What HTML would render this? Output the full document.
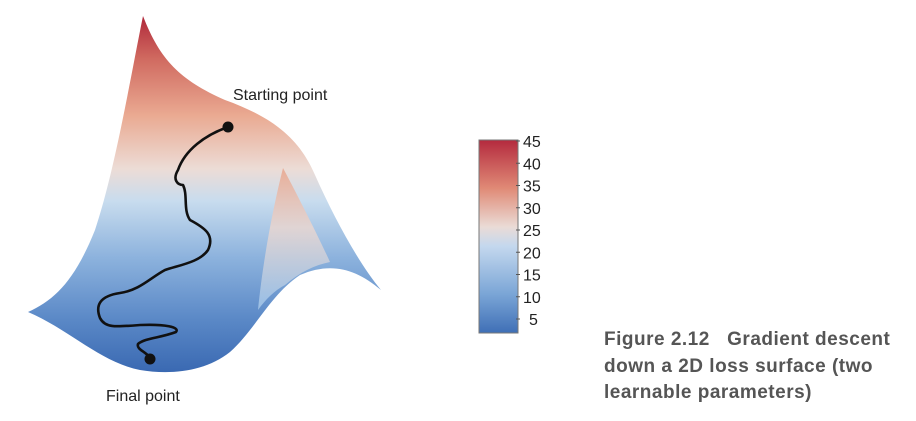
<!DOCTYPE html>
<html><head><meta charset="utf-8">
<style>
html,body{margin:0;padding:0;background:#fff;}
body{width:916px;height:421px;overflow:hidden;position:relative;font-family:"Liberation Sans",sans-serif;}
.cap{position:absolute;left:604px;top:327px;font-weight:bold;font-size:19px;line-height:26.5px;color:#555;letter-spacing:0.5px;white-space:nowrap;}
</style></head><body>
<svg width="916" height="421" style="position:absolute;left:0;top:0">
<defs>
<linearGradient id="surf" x1="0" y1="16" x2="0" y2="372" gradientUnits="userSpaceOnUse">
<stop offset="0" stop-color="#b0283a"/>
<stop offset="0.12" stop-color="#d06a60"/>
<stop offset="0.28" stop-color="#eaaa92"/>
<stop offset="0.43" stop-color="#ecdcd6"/>
<stop offset="0.52" stop-color="#c8dcee"/>
<stop offset="0.68" stop-color="#8cb2dd"/>
<stop offset="0.85" stop-color="#5b89c7"/>
<stop offset="1" stop-color="#3a69b2"/>
</linearGradient>
<linearGradient id="fin" x1="0" y1="168" x2="0" y2="300" gradientUnits="userSpaceOnUse">
<stop offset="0" stop-color="#e8a58c"/>
<stop offset="0.45" stop-color="#e9d6d0"/>
<stop offset="1" stop-color="#a8c8e8"/>
</linearGradient>
<linearGradient id="cb" x1="0" y1="140" x2="0" y2="333" gradientUnits="userSpaceOnUse">
<stop offset="0" stop-color="#b42a3e"/>
<stop offset="0.25" stop-color="#e08a76"/>
<stop offset="0.45" stop-color="#eadbd6"/>
<stop offset="0.55" stop-color="#c4d8ee"/>
<stop offset="0.8" stop-color="#7aa5d6"/>
<stop offset="1" stop-color="#3f6fb6"/>
</linearGradient>
</defs>
<path fill="url(#surf)" d="M143,16 C160,60 180,80 225,100 C275,118 300,140 315,175 C335,220 360,265 381,290 C355,268 330,262 300,275 C270,295 255,330 230,352 C205,372 170,375 140,370 C100,362 70,330 28,312 C55,300 75,280 95,230 C115,170 130,80 143,16 Z"/>
<path fill="url(#fin)" opacity="0.85" d="M283,168 C300,200 320,240 330,262 C315,265 300,272 285,285 C275,290 265,300 258,310 C262,270 270,220 283,168 Z"/>
<path fill="none" stroke="#111" stroke-width="2.6" stroke-linecap="round" stroke-linejoin="round" d="M228,127 C205,135 185,150 178,170 C172,180 178,185 183,185 C188,195 183,210 190,220 C205,228 215,235 208,250 C200,262 180,265 165,270 C150,278 140,290 120,293 C100,296 95,305 100,318 C105,328 115,327 140,325 C165,324 180,327 176,332 C160,338 145,338 138,344 C136,350 148,352 150,359"/>
<circle cx="228" cy="127" r="5.5" fill="#111"/>
<circle cx="150" cy="359" r="5.5" fill="#111"/>
<text x="233" y="100" font-size="16" fill="#222" font-family="Liberation Sans, sans-serif">Starting point</text>
<text x="106" y="401" font-size="16" fill="#222" font-family="Liberation Sans, sans-serif">Final point</text>
<rect x="479" y="140" width="39" height="193" fill="url(#cb)" stroke="#777" stroke-width="1"/>
<g id="ticks"></g>
</svg>
<div class="cap">Figure 2.12&nbsp;&nbsp; Gradient descent<br>down a 2D loss surface (two<br>learnable parameters)</div>
<script>
const tickValues=[45,40,35,30,25,20,15,10,5];
const tickLabels=["45","40","35","30","25","20","15","10","5"];
const yOf=v=>141+(45-v)*(319-141)/40;
const g=document.getElementById('ticks');
const ns="http://www.w3.org/2000/svg";
tickValues.forEach((v,i)=>{
  const t=document.createElementNS(ns,'text');
  
  
  t.setAttribute('x', v<10?529:523);
  t.setAttribute('y',yOf(v)+6);
  t.setAttribute('font-size','16');
  t.setAttribute('fill','#222');
  t.setAttribute('font-family','Liberation Sans, sans-serif');
  t.textContent=tickLabels[i];
  g.appendChild(t);
  const l=document.createElementNS(ns,'line');
  
  
  l.setAttribute('x1',516);l.setAttribute('x2',520);
  l.setAttribute('y1',yOf(v));l.setAttribute('y2',yOf(v));
  l.setAttribute('stroke','#555');
  g.appendChild(l);
});
</script>
</body></html>
